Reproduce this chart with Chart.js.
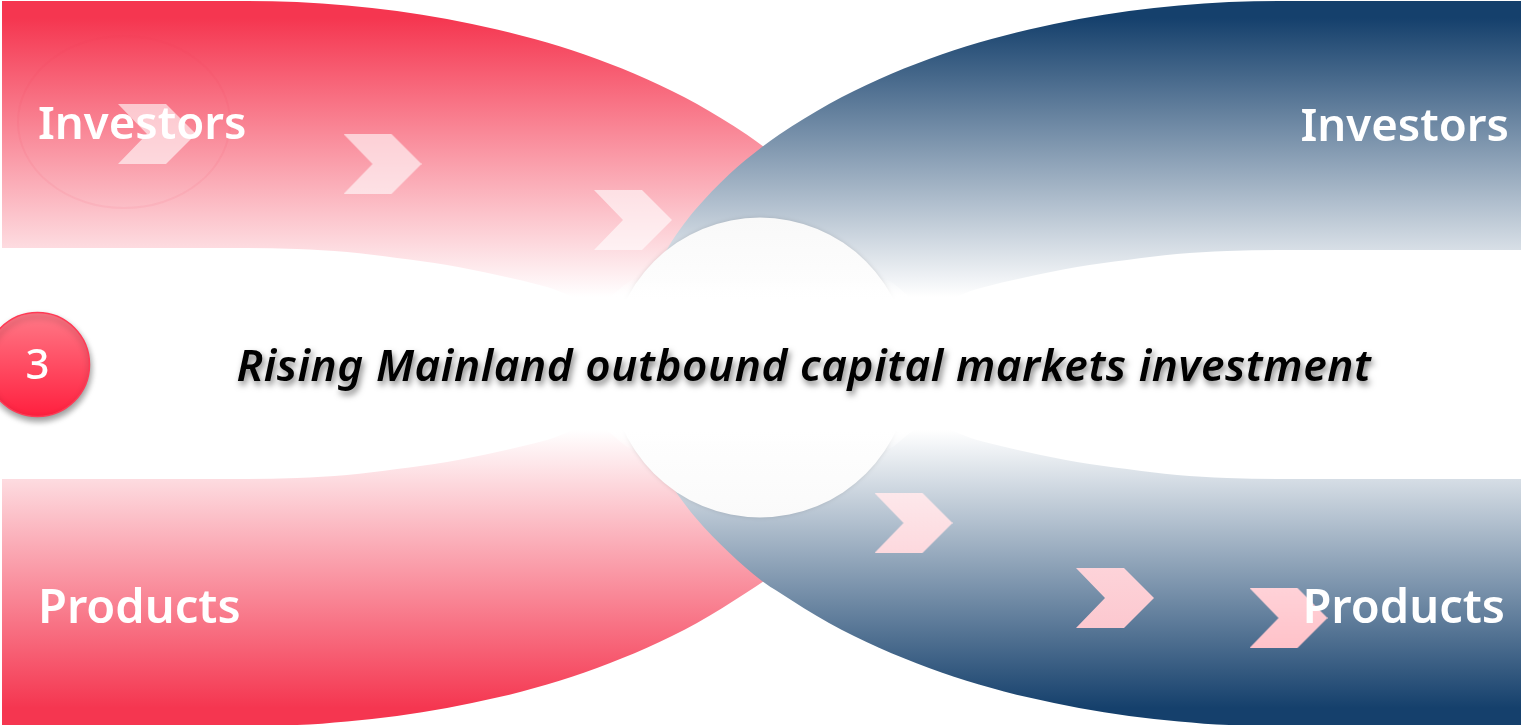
<!DOCTYPE html>
<html>
<head>
<meta charset="utf-8">
<title>Rising Mainland outbound capital markets investment</title>
<script src="https://cdnjs.cloudflare.com/ajax/libs/Chart.js/4.4.1/chart.umd.js"></script>
<style>
    html, body { margin: 0; padding: 0; background: #fff; overflow: hidden; }
    canvas { display: block; }
</style>
</head>
<body>
<canvas id="chart" width="1521" height="726"></canvas>
<script>
// outlines, in picture coordinates
var redTopX = [2, 247, 297, 347, 397, 447, 497, 547, 597, 647, 697, 747, 764];
var redTopY = [1, 1, 2.1, 5.4, 10.9, 18.9, 29.4, 42.6, 59.1, 79.2, 103.9, 134.7, 147];
var redTopInnerX = [2, 247, 297, 347, 397, 447, 497, 547, 597, 764];
var redTopInnerY = [248, 248, 249, 252, 258, 265, 275, 287, 303, 303];

var blueTopX = [639, 649, 669, 679, 695, 729, 762, 779, 829, 879, 929, 979, 1029, 1079, 1129, 1179, 1229, 1279, 1521];
var blueTopY = [318.8, 286, 246, 230.8, 210, 174.4, 147, 134.7, 103.9, 79.2, 59.1, 42.6, 29.4, 18.9, 10.9, 5.4, 2.1, 1, 1];
var blueTopInnerX = [639, 927, 977, 1027, 1077, 1127, 1177, 1227, 1277, 1521];
var blueTopInnerY = [305, 305, 289, 277, 267, 260, 254, 251, 250, 250];

var redBottomX = [2, 247, 297, 347, 397, 447, 497, 547, 597, 647, 697, 747, 764];
var redBottomY = [725, 725, 724.9, 721.6, 716.1, 708.1, 697.6, 684.4, 667.9, 647.8, 623.1, 592.3, 581];
var redBottomInnerX = [2, 247, 297, 347, 397, 447, 497, 547, 597, 764];
var redBottomInnerY = [479, 479, 478, 475, 469, 462, 452, 440, 424, 424];

var blueBottomX = [639, 649, 669, 679, 695, 729, 762, 779, 829, 879, 929, 979, 1029, 1079, 1129, 1179, 1229, 1279, 1521];
var blueBottomY = [408.2, 441, 481, 496.2, 517, 552.6, 581, 592.3, 623.1, 647.8, 667.9, 684.4, 697.6, 708.1, 716.1, 721.6, 724.9, 725, 725];
var blueBottomInnerX = [639, 927, 977, 1027, 1077, 1127, 1177, 1227, 1277, 1521];
var blueBottomInnerY = [424, 424, 440, 452, 462, 469, 475, 478, 479, 479];

// white band that hides the sides of the disc
var bandX = [606, 640, 880, 914];
var bandTopY = [300, 278, 278, 300];
var bandBottomY = [430, 452, 452, 430];

var chevronX = [157, 382.5, 633, 913.5, 1115, 1288.5];
var chevronY = [134, 164, 220, 523, 598, 618];
var chevronTop = ['rgba(255,255,255,0.6)', 'rgba(255,255,255,0.6)', 'rgba(255,255,255,0.6)', '#fde8eb', '#fdd3d9', '#ffd2d8'];
var chevronBottom = ['rgba(255,255,255,0.6)', 'rgba(255,255,255,0.6)', 'rgba(255,255,255,0.6)', '#fdd9de', '#fcc8cf', '#ffc2c9'];

var labels = ['Investors', 'Investors', 'Products', 'Products', '3'];
var labelX = [38, 1509, 38, 1505, 37.5];
var labelY = [126, 128, 610, 610, 367];
var labelSize = [45.5, 45.5, 47, 47, 42];
var labelWeight = [600, 600, 600, 600, 500];
var titleText = 'Rising Mainland outbound capital markets investment';

function zip(xs, ys) {
    return xs.map(function(x, i) { return { x: x, y: ys[i] }; });
}

// vertical gradient given in y values of the chart
function vGradient(ctx, from, to, stops) {
    var chart = ctx.chart;
    if (!chart.chartArea) return stops[0];
    var y = chart.scales.y;
    var g = chart.ctx.createLinearGradient(0, y.getPixelForValue(from), 0, y.getPixelForValue(to));
    stops.forEach(function(c, i) { g.addColorStop(i / (stops.length - 1), c); });
    return g;
}

function chevronImage(top, bottom) {
    var c = document.createElement('canvas');
    c.width = 78;
    c.height = 60;
    var x = c.getContext('2d');
    var g = x.createLinearGradient(0, 0, 0, 60);
    g.addColorStop(0, top);
    g.addColorStop(1, bottom);
    x.fillStyle = g;
    x.beginPath();
    x.moveTo(0, 0);
    x.lineTo(48, 0);
    x.lineTo(78, 30);
    x.lineTo(48, 60);
    x.lineTo(0, 60);
    x.lineTo(29, 30);
    x.closePath();
    x.fill();
    return c;
}

function ellipseImage() {
    var c = document.createElement('canvas');
    c.width = 216;
    c.height = 176;
    var x = c.getContext('2d');
    x.strokeStyle = 'rgba(240,60,85,0.07)';
    x.lineWidth = 2;
    x.beginPath();
    x.ellipse(108, 88, 106, 86, 0, 0, Math.PI * 2);
    x.stroke();
    return c;
}

function boundary(xs, ys, fillTarget, order, from, to, stops) {
    return {
        data: zip(xs, ys),
        showLine: true,
        cubicInterpolationMode: 'monotone',
        borderWidth: 0,
        pointRadius: 0,
        order: order,
        fill: fillTarget === null ? false : { target: fillTarget },
        backgroundColor: function(ctx) { return vGradient(ctx, from, to, stops); }
    };
}

var redStops = ['#f53650', '#ffffff'];
var blueStops = ['#15406c', '#ffffff'];
var redStopsUp = ['#ffffff', '#f53650'];
var blueStopsUp = ['#ffffff', '#15406c'];
var bandStops = ['rgba(255,255,255,0)', '#ffffff', '#ffffff', '#ffffff', '#ffffff', '#ffffff', '#ffffff', '#ffffff', 'rgba(255,255,255,0)'];

var datasets = [
    boundary(redTopX, redTopY, 1, 20, 18, 297, redStops),
    boundary(redTopInnerX, redTopInnerY, null, 19, 18, 297, redStops),
    boundary(redBottomX, redBottomY, 3, 18, 430, 708, redStopsUp),
    boundary(redBottomInnerX, redBottomInnerY, null, 17, 430, 708, redStopsUp),
    boundary(blueTopX, blueTopY, 5, 16, 18, 297, blueStops),
    boundary(blueTopInnerX, blueTopInnerY, null, 15, 18, 297, blueStops),
    boundary(blueBottomX, blueBottomY, 7, 14, 430, 708, blueStopsUp),
    boundary(blueBottomInnerX, blueBottomInnerY, null, 13, 430, 708, blueStopsUp),
    {
        // faint ring behind the first label
        data: [{ x: 124, y: 122 }],
        pointStyle: ellipseImage(),
        order: 12
    },
    {
        // big centre disc
        data: [{ x: 760, y: 367.5 }],
        pointRadius: 150,
        pointBorderWidth: 0,
        pointBackgroundColor: function(ctx) {
            return vGradient(ctx, 218, 517, ['#f9f9f9', '#ffffff', '#ffffff', '#fafafa']);
        },
        shadow: { color: 'rgba(0,0,0,0.12)', blur: 4, x: 0, y: 0 },
        order: 11
    },
    boundary(bandX, bandTopY, 11, 10.5, 278, 452, bandStops),
    boundary(bandX, bandBottomY, null, 10.4, 278, 452, bandStops),
    {
        data: zip(chevronX, chevronY),
        pointStyle: chevronX.map(function(x, i) { return chevronImage(chevronTop[i], chevronBottom[i]); }),
        order: 10
    },
    {
        // number badge
        data: [{ x: 37.5, y: 364.5 }],
        pointRadius: 52,
        pointBorderWidth: 1.5,
        pointBorderColor: '#ff3a55',
        pointBackgroundColor: function(ctx) {
            return vGradient(ctx, 312, 417, ['#ff7a88', '#ff1f3e']);
        },
        shadow: { color: 'rgba(0,0,0,0.4)', blur: 6, x: 1, y: 4 },
        order: 9
    }
];

var shadowPlugin = {
    id: 'markShadow',
    beforeDatasetDraw: function(chart, args) {
        var s = chart.data.datasets[args.index].shadow;
        if (!s) return;
        chart.ctx.save();
        chart.ctx.shadowColor = s.color;
        chart.ctx.shadowBlur = s.blur;
        chart.ctx.shadowOffsetX = s.x;
        chart.ctx.shadowOffsetY = s.y;
    },
    afterDatasetDraw: function(chart, args) {
        if (chart.data.datasets[args.index].shadow) chart.ctx.restore();
    }
};

var textPlugin = {
    id: 'textLabels',
    afterDraw: function(chart) {
        var ctx = chart.ctx;
        var sx = chart.scales.x;
        var sy = chart.scales.y;
        ctx.save();
        ctx.textBaseline = 'middle';
        ctx.fillStyle = '#fff';
        labels.forEach(function(text, i) {
            ctx.font = labelWeight[i] + ' ' + labelSize[i] + 'px "Noto Sans"';
            ctx.textAlign = i === 4 ? 'center' : (i % 2 ? 'right' : 'left');
            ctx.fillText(text, sx.getPixelForValue(labelX[i]), sy.getPixelForValue(labelY[i]));
        });
        ctx.font = 'italic 600 44px "Noto Sans"';
        ctx.letterSpacing = '0.6px';
        ctx.textAlign = 'center';
        ctx.fillStyle = '#000';
        ctx.shadowColor = 'rgba(0,0,0,0.5)';
        ctx.shadowBlur = 6;
        ctx.shadowOffsetX = 2;
        ctx.shadowOffsetY = 4;
        ctx.fillText(titleText, sx.getPixelForValue(804), sy.getPixelForValue(368));
        ctx.restore();
    }
};

new Chart(document.getElementById('chart').getContext('2d'), {
    type: 'scatter',
    data: { datasets: datasets },
    plugins: [shadowPlugin, textPlugin],
    options: {
        responsive: false,
        animation: false,
        events: [],
        layout: { padding: 0, autoPadding: false },
        plugins: { legend: { display: false }, title: { display: false }, tooltip: { enabled: false } },
        scales: {
            x: { type: 'linear', display: false, min: 0, max: 1521 },
            y: { type: 'linear', display: false, min: 0, max: 726, reverse: true }
        }
    }
});
</script>
</body>
</html>
